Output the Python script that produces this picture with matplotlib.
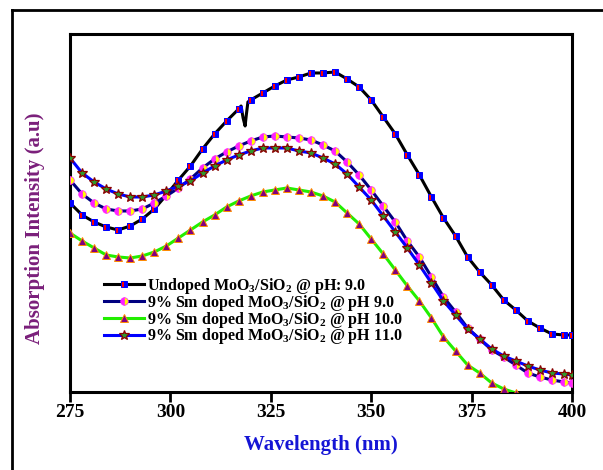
import numpy as np
import matplotlib
matplotlib.use("Agg")
import matplotlib.pyplot as plt
from matplotlib.lines import Line2D

# ---- data (absorption, a.u.) ----
wavelength = [275, 278, 281, 284, 287, 290, 293, 296, 299, 302, 305, 308, 311, 314,
              317, 320, 323, 326, 329, 332, 335, 338, 341, 344, 347, 350, 353, 356,
              359, 362, 365, 368, 371, 374, 377, 380, 383, 386, 389, 392, 395, 398, 400]

undoped_ph9 = [1.89, 1.77, 1.70, 1.65, 1.62, 1.66, 1.73, 1.83, 1.97, 2.12, 2.26, 2.43,
               2.58, 2.71, 2.83, 2.92, 2.99, 3.06, 3.12, 3.15, 3.19, 3.19, 3.20, 3.13,
               3.05, 2.92, 2.75, 2.58, 2.37, 2.17, 1.95, 1.74, 1.56, 1.35, 1.20, 1.07,
               0.92, 0.82, 0.71, 0.64, 0.58, 0.57, 0.57]
# narrow spike near 318 nm in the undoped spectrum
spike_wl = [317.6, 318.1, 318.6, 318.9, 319.3]
spike_val = [2.86, 2.74, 2.66, 2.77, 2.90]

sm_ph9 = [2.12, 1.98, 1.89, 1.83, 1.81, 1.81, 1.83, 1.89, 1.96, 2.04, 2.13, 2.24,
          2.33, 2.40, 2.46, 2.51, 2.55, 2.56, 2.55, 2.54, 2.52, 2.47, 2.41, 2.30,
          2.17, 2.02, 1.86, 1.70, 1.51, 1.35, 1.15, 0.95, 0.80, 0.64, 0.53, 0.42,
          0.35, 0.27, 0.19, 0.15, 0.12, 0.10, 0.09]

sm_ph10 = [1.59, 1.51, 1.44, 1.37, 1.35, 1.34, 1.36, 1.40, 1.46, 1.54, 1.62, 1.70,
           1.77, 1.85, 1.91, 1.96, 2.00, 2.02, 2.04, 2.02, 2.00, 1.96, 1.90, 1.79,
           1.68, 1.53, 1.38, 1.22, 1.06, 0.91, 0.74, 0.55, 0.41, 0.27, 0.19, 0.09,
           0.03, -0.01, -0.06]

sm_ph11 = [2.34, 2.19, 2.10, 2.03, 1.98, 1.95, 1.95, 1.97, 2.01, 2.06, 2.11, 2.19,
           2.26, 2.32, 2.37, 2.41, 2.44, 2.44, 2.44, 2.41, 2.39, 2.34, 2.28, 2.18,
           2.05, 1.92, 1.76, 1.60, 1.44, 1.27, 1.09, 0.91, 0.77, 0.63, 0.53, 0.43,
           0.36, 0.31, 0.26, 0.22, 0.19, 0.18, 0.17]

labels = [r"Undoped MoO$_3$/SiO$_2$ @ pH: 9.0",
          r"9% Sm doped MoO$_3$/SiO$_2$ @ pH 9.0",
          r"9% Sm doped MoO$_3$/SiO$_2$ @ pH 10.0",
          r"9% Sm doped MoO$_3$/SiO$_2$ @ pH 11.0"]

xticks = [275, 300, 325, 350, 375, 400]

# ---- style ----
plt.rcParams["font.family"] = "Liberation Serif"
plt.rcParams["font.weight"] = "bold"
plt.rcParams["mathtext.fontset"] = "custom"
plt.rcParams["mathtext.rm"] = "Liberation Serif:bold"
plt.rcParams["mathtext.it"] = "Liberation Serif:bold"
plt.rcParams["mathtext.bf"] = "Liberation Serif:bold"
plt.rcParams["mathtext.default"] = "rm"

fig = plt.figure(figsize=(6.03, 4.70), dpi=100)
ax = fig.add_axes([0.1161, 0.166, 0.8325, 0.7617])

# merge spike into undoped curve, markers only on the regular grid
black_pts = sorted(zip(wavelength + spike_wl, undoped_ph9 + spike_val))
black_wl = [p[0] for p in black_pts]
black_val = [p[1] for p in black_pts]
grid = set(wavelength)
black_marks = [i for i, w in enumerate(black_wl) if w in grid]

ax.plot(black_wl, black_val, color="black", lw=2.2, marker="s", ms=5,
        markevery=black_marks, fillstyle="left", markerfacecolor="red",
        markerfacecoloralt="blue", markeredgecolor="blue", mew=0.7,
        label=labels[0], zorder=3)
ax.plot(wavelength, sm_ph9, color="#000080", lw=2.2, marker="o", ms=5.5,
        fillstyle="left", markerfacecolor="#ff22ff", markerfacecoloralt="#ffff00",
        markeredgecolor="#ff22ff", mew=0.5, label=labels[1], zorder=3)
ax.plot(wavelength[:len(sm_ph10)], sm_ph10, color="#22ee00", lw=2.2, marker="^", ms=6,
        markerfacecolor="#800080", markeredgecolor="#ff8c00", mew=0.7,
        label=labels[2], zorder=3)
ax.plot(wavelength, sm_ph11, color="#0000ff", lw=2.2, marker="*", ms=7,
        markerfacecolor="#2e9b2e", markeredgecolor="#8b0000", mew=0.9,
        label=labels[3], zorder=4)

ax.set_xlim(275, 400)
ax.set_ylim(0, 3.58)
ax.set_xticks(xticks)
ax.set_yticks([])
ax.tick_params(axis="x", direction="out", length=7, width=2, labelsize=14, pad=2)
for s in ax.spines.values():
    s.set_linewidth(2.2)

ax.set_xlabel("Wavelength (nm)", fontsize=15, fontweight="bold", color="#1515d5", labelpad=10)
ax.set_ylabel("Absorption Intensity (a.u)", fontsize=15, fontweight="bold", color="#7a1f7a")
ax.yaxis.set_label_coords(-0.05, 0.458)

ax.legend(loc="upper left", bbox_to_anchor=(0.045, 0.355), frameon=False,
          fontsize=11.5, handlelength=2.5, handletextpad=0.2, labelspacing=-0.2,
          borderpad=0.2)

# partial outer frame
fig.add_artist(Line2D([0.02, 1.0], [0.979, 0.979], color="black", lw=2, transform=fig.transFigure))
fig.add_artist(Line2D([0.02, 0.02], [0.0, 0.979], color="black", lw=2, transform=fig.transFigure))

fig.savefig("out.png", dpi=100)
